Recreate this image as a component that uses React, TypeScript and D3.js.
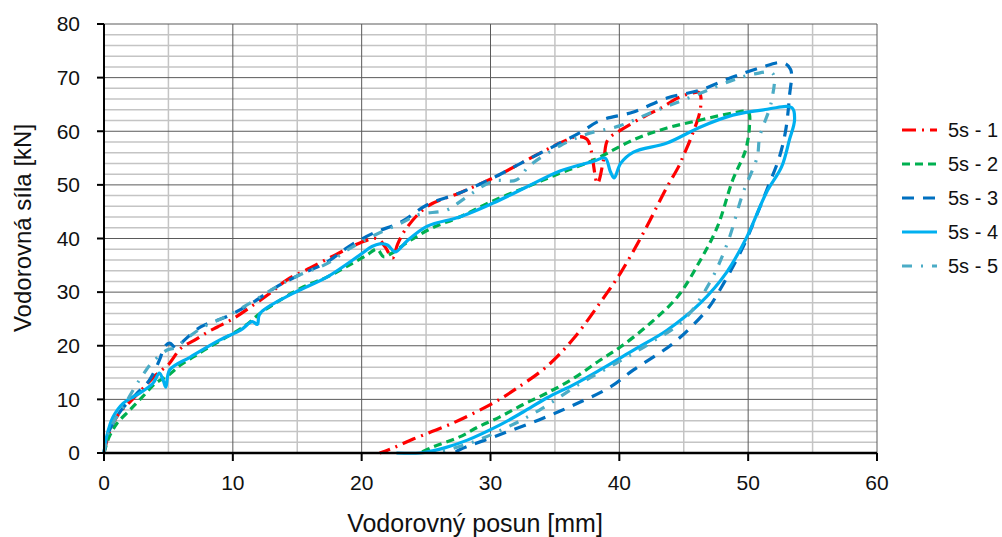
import React from "react";
import * as d3 from "d3";

const xTicks = [0, 10, 20, 30, 40, 50, 60];
const yTicks = [0, 10, 20, 30, 40, 50, 60, 70, 80];
const seriesNames = ["5s - 1", "5s - 2", "5s - 3", "5s - 4", "5s - 5"];

const s1: [number, number][] = [[0,0],[0.3,3],[0.7,5.5],[1.2,7.5],[2,9.5],[3,12],[4,14.5],[4.5,15.5],[5,16.5],[6,19.6],[7,21],[8,22.5],[8.8,23.5],[10,25],[11.6,27.6],[13,30],[14.2,32.3],[16,34.5],[18,37],[19.9,39.2],[21.2,40],[21.8,38.5],[22.4,36.4],[22.8,39],[23.5,42],[25.1,46],[27.6,48.5],[30.2,51.3],[32.8,54.6],[35.4,57.8],[36.7,59],[37.5,58.5],[38.3,50.3],[38.8,55],[39.1,58.4],[40.1,60.2],[41.9,62.7],[43.2,64.3],[44.7,66.4],[45.5,67],[46.2,67.2],[46.3,64.3],[45.5,58.4],[45,55.6],[44.6,53.4],[43.7,49.6],[41.9,41.2],[40.1,33.6],[38.5,28],[36.5,21.5],[34.4,16.2],[32,12],[30.2,9.3],[27,5.5],[24,2.6],[22.5,1],[21.4,0]];
const s2: [number, number][] = [[0,0],[0.4,3],[1,5.5],[2,8],[3,10.5],[4,13],[5,14.5],[6,16.5],[7,18],[8,19.5],[9.5,21.6],[11,23.8],[12.1,26],[14,29],[15.5,31],[17.3,32.8],[19,35],[20.4,36.9],[21.2,38],[21.7,36.6],[22.3,37.2],[23.8,39.7],[25.5,42],[27.6,44],[30,46.8],[32.8,49.6],[35,51.8],[37.7,54.3],[38.5,55.2],[41.1,58.4],[43.7,60.6],[46.3,62.1],[48.8,63.4],[50,63.6],[50.1,61],[49.8,56.5],[48.8,50.9],[47.6,42.1],[46.3,36],[44.5,29.1],[42.4,24.2],[40.1,19.8],[38.5,17.3],[36.5,14],[34.4,11.2],[32.5,9],[30.7,6.7],[29,4.8],[27.6,3],[25.5,1.1],[24.5,0]];
const s3: [number, number][] = [[0,0],[0.3,3.5],[0.8,6],[1.5,8.5],[2.5,11],[3.5,13.5],[4.3,17.3],[4.7,19.8],[5.1,20.5],[5.6,19.5],[6,20.5],[7.5,23.5],[9.5,25.4],[11.5,28],[13.4,31],[15,33],[17.3,35.6],[19,38.5],[20.9,41],[23,43],[25.1,46.3],[27.6,48.5],[30.2,51.3],[32.8,54.6],[35.4,57.8],[37,59.8],[38.5,62],[41.1,63.6],[43.7,66.2],[46.3,67.7],[48.8,70.1],[50.9,71.8],[52.7,72.8],[53.3,71.5],[53.2,66.4],[52.9,60],[52.4,55],[51.6,50],[50.6,44],[49.6,38.4],[47.8,30.4],[46.8,26.7],[44.2,20.5],[41.1,15.5],[39.3,12.3],[36.5,9],[33.8,6.2],[30.7,3.4],[27.6,0.6],[27.2,0]];
const s4: [number, number][] = [[0,0],[0.2,3],[0.7,6.7],[1.5,9.3],[2.8,11.2],[3.8,13],[4.3,14.9],[4.6,13.5],[4.8,12.3],[5.1,15.5],[6.7,17.9],[9,21.1],[10.6,22.9],[11.5,24.5],[11.9,24],[12.1,26],[14.7,29.8],[17.3,32.8],[19.9,37],[20.8,38.5],[21.4,39],[22,38.8],[22.6,37.5],[23.5,39.5],[25.1,42.3],[27.6,44],[30.2,46.6],[32.8,49.6],[35.4,52.6],[38,54.4],[38.9,55],[39.3,52.5],[39.6,51.3],[40.1,54],[41.1,56.1],[43.7,57.8],[46.3,60.8],[48.8,63],[51.2,64],[53.4,64.4],[53.6,62.1],[53.2,58.4],[52.6,53.4],[51.4,48.5],[49.9,40.3],[48.3,33.6],[46.3,28],[43.7,22.9],[41.1,19.2],[38.5,15.5],[36.5,12.8],[34.4,10.3],[32.5,7.6],[30.7,5.2],[28.2,2.4],[26.5,1],[25.5,0.4],[24.5,0],[22.7,0]];
const s5: [number, number][] = [[0,0],[0.3,3.5],[0.8,6],[1.5,8.6],[2.4,12.3],[3,14.5],[3.7,16.8],[4.9,19.2],[5.5,19.6],[6.5,21.5],[7.7,23.5],[9.5,25.5],[11.5,28.2],[13.4,31],[15,33],[17.3,35.3],[19,38],[20.9,40.5],[23,42.8],[24.5,44.5],[26.6,45.3],[28,47.5],[30.2,50.7],[32,50.9],[33,53.5],[35.4,57.3],[37.5,59.5],[40,61],[42.4,63.4],[46,66.8],[48.8,69.5],[50.5,70.7],[51.9,70.8],[51.8,65.5],[50.9,59],[50.7,55.2],[49.6,48.5],[48.4,39.2],[47,31.7],[45,24.8],[42.4,20.5],[39.8,16.8],[37,13],[33.8,8],[31.3,4.8],[28.6,2],[25.8,0]];

const seriesData = [s1, s2, s3, s4, s5];
const colors = ["#FF0000", "#00B050", "#0070C0", "#00B0F0", "#4BACC6"];
const dashes = ["14,6,2,6", "8,5", "12,9", "none", "10,9,2,9"];

const M = { left: 104, right: 877, top: 24, bottom: 453 };
const FONT = "'Liberation Sans', Arial, sans-serif";

export default function App() {
  const x = d3.scaleLinear().domain([0, 60]).range([M.left, M.right]);
  const y = d3.scaleLinear().domain([0, 80]).range([M.bottom, M.top]);
  const line = d3.line<[number, number]>().x(d => x(d[0])).y(d => y(d[1])).curve(d3.curveCatmullRom.alpha(0.5));
  const minorX = d3.range(5, 60, 10);
  const majorX = d3.range(10, 61, 10);
  const minorY = d3.range(2, 80, 2).filter(v => v % 10 !== 0);
  const majorY = d3.range(10, 81, 10);
  return (
    <svg width={1002} height={537} style={{ position: "absolute", left: 0, top: 0, background: "#fff" }}>
      <rect x={0} y={0} width={1002} height={537} fill="#fff" />
      {minorY.map(v => <line key={"my" + v} x1={M.left} x2={M.right} y1={y(v)} y2={y(v)} stroke="#c4c4c4" strokeWidth={1.5} />)}
      {minorX.map(v => <line key={"mx" + v} x1={x(v)} x2={x(v)} y1={M.top} y2={M.bottom} stroke="#c4c4c4" strokeWidth={1.5} />)}
      {majorY.map(v => <line key={"My" + v} x1={M.left} x2={M.right} y1={y(v)} y2={y(v)} stroke="#5a5a5a" strokeWidth={1} />)}
      {majorX.map(v => <line key={"Mx" + v} x1={x(v)} x2={x(v)} y1={M.top} y2={M.bottom} stroke="#5a5a5a" strokeWidth={1} />)}
      {seriesData.map((d, i) => (
        <path key={"s" + i} d={line(d) || ""} fill="none" stroke={colors[i]} strokeWidth={3.2}
          strokeDasharray={dashes[i]} strokeLinejoin="round" strokeLinecap="butt" />
      ))}
      <line x1={M.left} x2={M.left} y1={M.top} y2={M.bottom + 1} stroke="#000" strokeWidth={2} />
      <line x1={M.left - 1} x2={M.right} y1={M.bottom} y2={M.bottom} stroke="#000" strokeWidth={2.5} />
      {yTicks.map(v => (
        <g key={"yt" + v}>
          <line x1={M.left - 7} x2={M.left} y1={y(v)} y2={y(v)} stroke="#000" strokeWidth={2} />
          <text x={M.left - 24} y={y(v)} dy="0.35em" textAnchor="end" fontSize={21} fontFamily={FONT} fill="#111">{v}</text>
        </g>
      ))}
      {xTicks.map(v => (
        <g key={"xt" + v}>
          <line x1={x(v)} x2={x(v)} y1={M.bottom} y2={M.bottom + 8} stroke="#000" strokeWidth={2} />
          <text x={x(v)} y={490} textAnchor="middle" fontSize={21} fontFamily={FONT} fill="#111">{v}</text>
        </g>
      ))}
      <text x={475} y={532} textAnchor="middle" fontSize={25} fontFamily={FONT} fill="#111">Vodorovný posun [mm]</text>
      <text transform="translate(31,228) rotate(-90)" textAnchor="middle" fontSize={24} fontFamily={FONT} fill="#111">Vodorovná síla [kN]</text>
      {seriesNames.map((n, i) => {
        const ly = 130 + i * 34;
        return (
          <g key={"lg" + i}>
            <line x1={902} x2={937} y1={ly} y2={ly} stroke={colors[i]} strokeWidth={3.2} strokeDasharray={dashes[i]} />
            <text x={948} y={ly} dy="0.35em" fontSize={20} fontFamily={FONT} fill="#111">{n}</text>
          </g>
        );
      })}
    </svg>
  );
}
